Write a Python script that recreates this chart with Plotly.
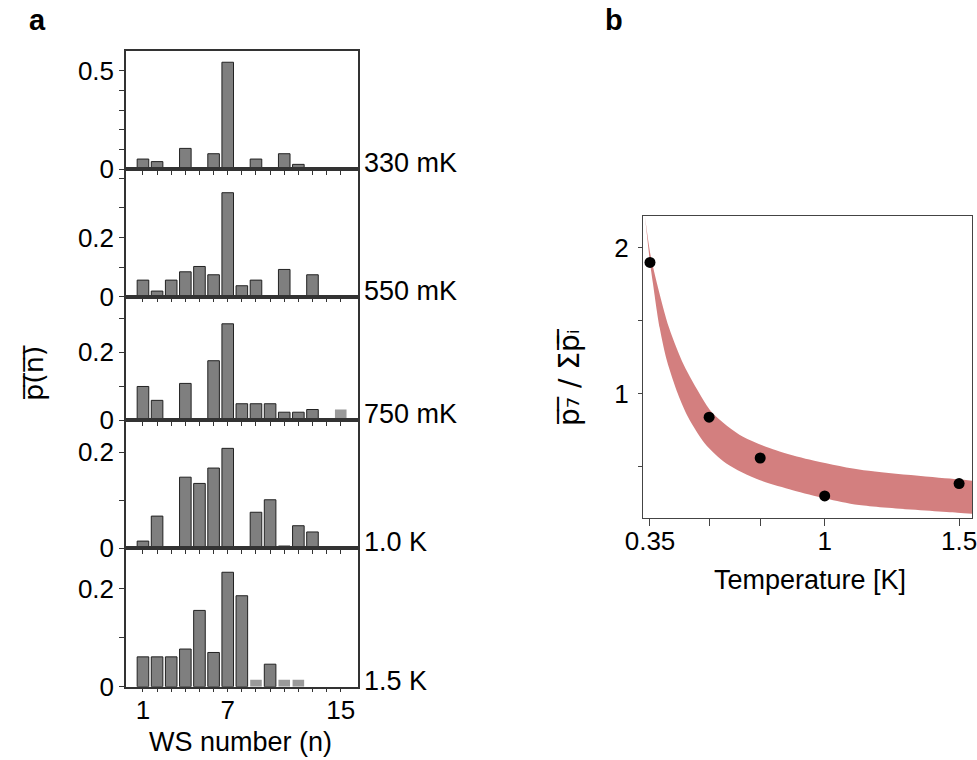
import plotly.graph_objects as go

# ---------------- data ----------------
ws_n = list(range(1, 16))
temp_labels = ["330 mK", "550 mK", "750 mK", "1.0 K", "1.5 K"]
p_330 = [0.052, 0.039, 0, 0.106, 0, 0.079, 0.543, 0, 0.052, 0, 0.079, 0.025, 0.008, 0, 0]
p_550 = [0.056, 0.019, 0.056, 0.084, 0.102, 0.074, 0.351, 0.037, 0.056, 0, 0.092, 0, 0.074, 0, 0]
p_750 = [0.099, 0.058, 0, 0.108, 0, 0.175, 0.284, 0.048, 0.048, 0.048, 0.023, 0.023, 0.031, 0.006, 0.031]
p_1000 = [0.015, 0.067, 0, 0.148, 0.135, 0.167, 0.208, 0, 0.075, 0.101, 0.007, 0.047, 0.034, 0, 0]
p_1500 = [0.061, 0.061, 0.061, 0.077, 0.156, 0.070, 0.234, 0.186, 0.014, 0.046, 0.014, 0.014, 0, 0, 0]
faint_330 = [13]
faint_550 = []
faint_750 = [14, 15]
faint_1000 = [11]
faint_1500 = [9, 11, 12]

y_tops = [0.6, 0.43, 0.364, 0.267, 0.283]
y_ticks = [[0, 0.1, 0.2, 0.3, 0.4, 0.5], [0, 0.1, 0.2, 0.3, 0.4], [0, 0.1, 0.2, 0.3], [0, 0.1, 0.2], [0, 0.1, 0.2]]
y_ticktext = [["0", "", "", "", "", "0.5"], ["0", "", "0.2", "", ""], ["0", "", "0.2", ""], ["0", "", "0.2"], ["0", "", "0.2"]]
x_ticktext = ["1", "", "", "", "", "", "7", "", "", "", "", "", "", "", "15"]

temps_K = [0.35, 0.57, 0.76, 1.0, 1.5]
ratio_p7 = [1.90, 0.84, 0.56, 0.30, 0.385]
band_upper_T = [0.331, 0.352, 0.376, 0.421, 0.475, 0.541, 0.584, 0.696, 0.819, 0.943, 1.128, 1.494, 1.548]
band_upper_v = [2.22, 1.95, 1.756, 1.452, 1.20, 0.98, 0.865, 0.705, 0.614, 0.550, 0.481, 0.414, 0.405]
band_lower_T = [0.331, 0.350, 0.361, 0.386, 0.413, 0.454, 0.491, 0.554, 0.634, 0.757, 0.881, 1.004, 1.128, 1.494, 1.548]
band_lower_v = [2.22, 1.90, 1.756, 1.452, 1.226, 0.998, 0.842, 0.66, 0.523, 0.409, 0.340, 0.283, 0.238, 0.185, 0.178]
b_xticks = [0.35, 0.57, 0.76, 1.0, 1.5]
b_xticktext = ["0.35", "", "", "1", "1.5"]
b_yticks = [0.5, 1, 1.5, 2]
b_yticktext = ["", "1", "", "2"]

series = [p_330, p_550, p_750, p_1000, p_1500]
faints = [faint_330, faint_550, faint_750, faint_1000, faint_1500]

# ---------------- layout geometry ----------------
W, H = 977, 760
FONT = "Liberation Sans, Arial, sans-serif"
AX = "#333333"
FS = 26

def px_x(v):
    return v / W

def px_y(v):
    return 1 - v / H

a_left, a_right = 126, 357.7
panel_edges = [51, 169.3, 296.7, 420, 548.3, 686.7]

fig = go.Figure()
layout = dict(
    width=W, height=H, margin=dict(l=0, r=0, t=0, b=0, autoexpand=False),
    paper_bgcolor="white", plot_bgcolor="white", showlegend=False,
    font=dict(family=FONT, color="black", size=FS),
)
annotations = []

for i, vals in enumerate(series):
    k = i + 1
    xname = "x" if k == 1 else f"x{k}"
    yname = "y" if k == 1 else f"y{k}"
    colors = ["#9a9a9a" if n in faints[i] else "#7f7f7f" for n in ws_n]
    lw = [0 if (n in faints[i] or v == 0) else 1 for n, v in zip(ws_n, vals)]
    fig.add_trace(go.Bar(
        x=ws_n, y=vals, xaxis=xname, yaxis=yname, width=0.82,
        marker=dict(color=colors, line=dict(color="#222222", width=lw)),
    ))
    top, bot = panel_edges[i], panel_edges[i + 1]
    layout[f"xaxis{k}" if k > 1 else "xaxis"] = dict(
        domain=[px_x(a_left), px_x(a_right)], anchor=yname, automargin=False,
        range=[-0.2, 16.2], tickvals=ws_n,
        ticktext=x_ticktext, showticklabels=(k == 5),
        ticks="outside", ticklen=4, tickwidth=1.3, tickcolor=AX,
        showline=True, linecolor=AX, linewidth=1.5, mirror=True,
        showgrid=False, zeroline=False, tickfont=dict(size=FS),
        ticklabelstandoff=-5, ticklabeloverflow="allow",
    )
    layout[f"yaxis{k}" if k > 1 else "yaxis"] = dict(
        domain=[px_y(bot), px_y(top)], anchor=xname, automargin=False,
        range=[0, y_tops[i]], tickvals=y_ticks[i], ticktext=y_ticktext[i],
        ticks="outside", ticklen=5, tickwidth=1.3, tickcolor=AX,
        showline=True, linecolor=AX, linewidth=1.5, mirror=True,
        showgrid=False, zeroline=False, tickfont=dict(size=FS),
        ticklabelstandoff=0, ticklabeloverflow="allow",
    )
    annotations.append(dict(
        text=temp_labels[i], xref="paper", yref="paper",
        x=px_x(a_right), y=px_y(bot), xanchor="left", yanchor="bottom",
        xshift=4, yshift=-11, showarrow=False, font=dict(size=27),
    ))

# ---------------- panel b ----------------
b_left, b_right, b_top, b_bot = 643, 972, 215.7, 518.3
fig.add_trace(go.Scatter(
    x=band_lower_T, y=band_lower_v, xaxis="x6", yaxis="y6", mode="lines",
    line=dict(width=0, shape="spline", smoothing=0.8, color="#d37f7f"),
))
fig.add_trace(go.Scatter(
    x=band_upper_T, y=band_upper_v, xaxis="x6", yaxis="y6", mode="lines",
    line=dict(width=0, shape="spline", smoothing=0.8, color="#d37f7f"),
    fill="tonexty", fillcolor="#d37f7f",
))
fig.add_trace(go.Scatter(
    x=temps_K, y=ratio_p7, xaxis="x6", yaxis="y6", mode="markers",
    marker=dict(color="black", size=11),
))
layout["xaxis6"] = dict(
    domain=[px_x(b_left), px_x(b_right)], anchor="y6", automargin=False,
    range=[0.324, 1.548], tickvals=b_xticks, ticktext=b_xticktext,
    ticks="outside", ticklen=7, tickwidth=1, tickcolor="#444444",
    showline=True, linecolor="#444444", linewidth=1, mirror=True,
    showgrid=False, zeroline=False, tickfont=dict(size=FS),
    ticklabelstandoff=-8, ticklabeloverflow="allow",
)
layout["yaxis6"] = dict(
    domain=[px_y(b_bot), px_y(b_top)], anchor="x6", automargin=False,
    range=[0.147, 2.22], tickvals=b_yticks, ticktext=b_yticktext,
    ticks="outside", ticklen=4, tickwidth=1, tickcolor="#444444",
    showline=True, linecolor="#444444", linewidth=1, mirror=True,
    showgrid=False, zeroline=False, tickfont=dict(size=FS),
    ticklabelstandoff=4, ticklabeloverflow="allow",
)

# ---------------- titles & panel letters ----------------
annotations += [
    dict(text="<b>a</b>", xref="paper", yref="paper", x=px_x(37), y=px_y(20),
         xanchor="center", yanchor="middle", showarrow=False, font=dict(size=29)),
    dict(text="<b>b</b>", xref="paper", yref="paper", x=px_x(614), y=px_y(20),
         xanchor="center", yanchor="middle", showarrow=False, font=dict(size=29)),
    dict(text="WS number (n)", xref="paper", yref="paper", x=px_x(240), y=px_y(742),
         xanchor="center", yanchor="middle", showarrow=False, font=dict(size=27)),
    dict(text="p\u0305(\u0305n\u0305)\u0305", xref="paper", yref="paper", x=px_x(33), y=px_y(373),
         xanchor="center", yanchor="middle", showarrow=False, textangle=-90,
         font=dict(size=27, family="DejaVu Sans, Liberation Sans")),
    dict(text="Temperature [K]", xref="paper", yref="paper", x=px_x(810), y=px_y(580),
         xanchor="center", yanchor="middle", showarrow=False, font=dict(size=27)),
    dict(text="p\u0305\u2087\u0305 / \u03a3p\u0305\u1d62\u0305", xref="paper", yref="paper",
         x=px_x(570), y=px_y(377), xanchor="center", yanchor="middle", showarrow=False,
         textangle=-90, font=dict(size=28, family="DejaVu Sans, Liberation Sans")),
]
layout["annotations"] = annotations
fig.update_layout(**layout)
fig.write_html("out.html", config={"displayModeBar": False},
               post_script="document.body.style.margin='0px';")
